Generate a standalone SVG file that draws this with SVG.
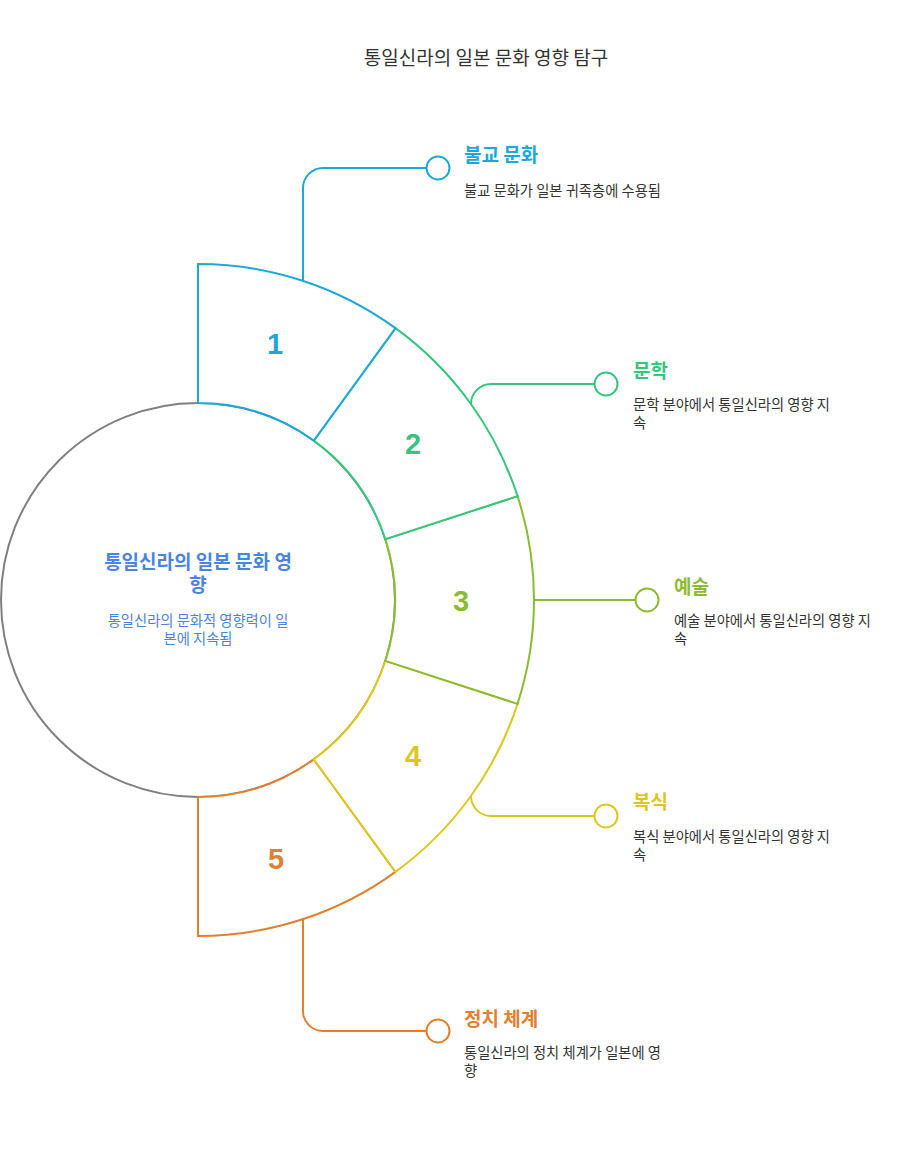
<svg xmlns="http://www.w3.org/2000/svg" width="918" height="1164" viewBox="0 0 918 1164">
<style>
text{font-family:"Noto Sans CJK KR","Noto Sans",sans-serif}
.title{font-size:19px;fill:#333}
.h{font-size:19px;font-weight:bold}
.d{font-size:14.3px;fill:#333}
.num{font-family:"Liberation Sans",Arial,sans-serif;font-size:29px;font-weight:bold;text-anchor:middle}
.seg{fill:#fff;stroke-width:2;stroke-linejoin:miter}
.con{fill:none;stroke-width:2}
.dot{fill:#fff;stroke-width:2}
.c1{stroke:#1EA7D9}.t1{fill:#1EA7D9}
.c2{stroke:#37C47E}.t2{fill:#37C47E}
.c3{stroke:#8CBB33}.t3{fill:#8CBB33}
.c4{stroke:#DCC81C}.t4{fill:#DCC81C}
.c5{stroke:#E08030}.t5{fill:#E08030}
</style>
<rect width="918" height="1164" fill="#fff"/>
<text class="title" x="486" y="65" text-anchor="middle">통일신라의 일본 문화 영향 탐구</text>

<g id="center">
<circle cx="198" cy="600" r="197" fill="#fff" stroke="#808080" stroke-width="2"/>
<text text-anchor="middle" font-size="19" font-weight="bold" fill="#4A84E0"><tspan x="198" y="569">통일신라의 일본 문화 영</tspan><tspan x="198" y="592">향</tspan></text>
<text text-anchor="middle" font-size="14.3" fill="#4A84E0"><tspan x="198" y="626">통일신라의 문화적 영향력이 일</tspan><tspan x="198" y="644">본에 지속됨</tspan></text>
</g>

<g id="connectors">
<path class="con c1" d="M303,281 V188 A20 20 0 0 1 323,168 H426.5"/>
<path class="con c2" d="M471,404 A20 20 0 0 1 491,384 H594.5"/>
<path class="con c3" d="M534,600 H635.5"/>
<path class="con c4" d="M471,796 A20 20 0 0 0 491,816 H594.5"/>
<path class="con c5" d="M303,919 V1011 A20 20 0 0 0 323,1031 H426.5"/>
</g>

<g id="seg5">
<path class="seg c5" d="M313.79,759.38 L395.5,871.83 A336 336 0 0 1 198,936 L198,797 A197 197 0 0 0 313.79,759.38 Z"/>
<text class="num t5" x="276" y="869">5</text>
</g>
<g id="seg4">
<path class="seg c4" d="M385.36,660.88 L517.55,703.83 A336 336 0 0 1 395.5,871.83 L313.79,759.38 A197 197 0 0 0 385.36,660.88 Z"/>
<text class="num t4" x="413" y="766">4</text>
</g>
<g id="seg3">
<path class="seg c3" d="M385.36,539.12 L517.55,496.17 A336 336 0 0 1 517.55,703.83 L385.36,660.88 A197 197 0 0 0 385.36,539.12 Z"/>
<text class="num t3" x="461" y="611">3</text>
</g>
<g id="seg2">
<path class="seg c2" d="M313.79,440.62 L395.5,328.17 A336 336 0 0 1 517.55,496.17 L385.36,539.12 A197 197 0 0 0 313.79,440.62 Z"/>
<text class="num t2" x="413" y="454">2</text>
</g>
<g id="seg1">
<path class="seg c1" d="M198,403 L198,264 A336 336 0 0 1 395.5,328.17 L313.79,440.62 A197 197 0 0 0 198,403 Z"/>
<text class="num t1" x="275" y="354">1</text>
</g>

<g id="node1">
<circle class="dot c1" cx="438" cy="168" r="11.5"/>
<text class="h t1" x="464" y="162">불교 문화</text>
<text class="d" x="464" y="196">불교 문화가 일본 귀족층에 수용됨</text>
</g>
<g id="node2">
<circle class="dot c2" cx="606" cy="384" r="11.5"/>
<text class="h t2" x="633" y="378">문학</text>
<text class="d"><tspan x="633" y="410">문학 분야에서 통일신라의 영향 지</tspan><tspan x="633" y="428">속</tspan></text>
</g>
<g id="node3">
<circle class="dot c3" cx="647" cy="600" r="11.5"/>
<text class="h t3" x="674" y="594">예술</text>
<text class="d"><tspan x="674" y="626">예술 분야에서 통일신라의 영향 지</tspan><tspan x="674" y="644">속</tspan></text>
</g>
<g id="node4">
<circle class="dot c4" cx="606" cy="816" r="11.5"/>
<text class="h t4" x="633" y="809">복식</text>
<text class="d"><tspan x="633" y="842">복식 분야에서 통일신라의 영향 지</tspan><tspan x="633" y="860">속</tspan></text>
</g>
<g id="node5">
<circle class="dot c5" cx="438" cy="1031" r="11.5"/>
<text class="h t5" x="464" y="1026">정치 체계</text>
<text class="d"><tspan x="464" y="1058">통일신라의 정치 체계가 일본에 영</tspan><tspan x="464" y="1076">향</tspan></text>
</g>
</svg>
